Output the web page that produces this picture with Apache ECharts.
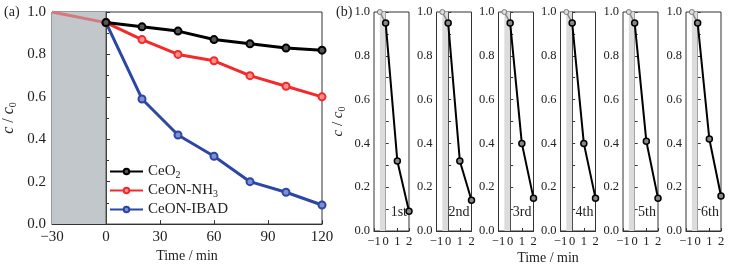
<!DOCTYPE html>
<html><head><meta charset="utf-8">
<script src="https://cdn.jsdelivr.net/npm/echarts@6/dist/echarts.min.js"></script>
<style>html,body{margin:0;padding:0;background:#fff}#c{width:730px;height:268px}</style>
</head><body><div id="c"></div>
<script>
// ---- data ----
const timesA = [0, 20, 40, 60, 80, 100, 120];
const darkTimes = [-30, 0];
const darkValues = [1.0, 0.95];
const ceo2 = [0.95, 0.93, 0.91, 0.87, 0.85, 0.83, 0.82];
const ceonNH3 = [0.95, 0.87, 0.80, 0.77, 0.70, 0.65, 0.60];
const ceonIBAD = [0.95, 0.59, 0.42, 0.32, 0.20, 0.15, 0.09];
const seriesNames = ['CeO2', 'CeON-NH3', 'CeON-IBAD'];
const xTicksA = [-30, 0, 30, 60, 90, 120];

const cycleLabels = ['1st', '2nd', '3rd', '4th', '5th', '6th'];
const cycleTimesDark = [-0.5, 0];
const cycleDark = [1.0, 0.95];
const cycleTimes = [0, 1, 2];
const cycle1 = [0.95, 0.32, 0.09];
const cycle2 = [0.95, 0.32, 0.14];
const cycle3 = [0.95, 0.40, 0.15];
const cycle4 = [0.95, 0.40, 0.15];
const cycle5 = [0.95, 0.41, 0.15];
const cycle6 = [0.95, 0.42, 0.16];
const cycles = [cycle1, cycle2, cycle3, cycle4, cycle5, cycle6];

// ---- layout ----
const FONT = 'Liberation Serif';
const AX = '#333';
const gridA = {left: 49, top: 12, width: 273, height: 220};
const bLefts = [374, 436.5, 498.5, 560.5, 623, 686];
const bW = 35, bTop = 12, bH = 219;
const minus = s => String(s).replace('-', '\u2212');

const grids = [Object.assign({show: true, borderColor: AX, borderWidth: 1, backgroundColor: 'transparent'}, gridA)];
bLefts.forEach(l => grids.push({show: true, borderColor: AX, borderWidth: 1, left: l, top: bTop, width: bW, height: bH}));

const xAxes = [{
  gridIndex: 0, type: 'value', min: -30, max: 120, interval: 30,
  axisLine: {lineStyle: {color: AX}}, splitLine: {show: false},
  axisTick: {inside: true, length: 4, lineStyle: {color: AX}},
  axisLabel: {fontFamily: FONT, fontSize: 15, color: '#222', margin: 5, formatter: v => minus(v)},
  name: 'Time / min', nameLocation: 'middle', nameGap: 23,
  nameTextStyle: {fontFamily: FONT, fontSize: 14, color: '#222'}
}];
const yAxes = [{
  gridIndex: 0, type: 'value', min: 0, max: 1, interval: 0.2,
  axisLine: {lineStyle: {color: AX}}, splitLine: {show: false},
  axisTick: {inside: true, length: 4, lineStyle: {color: AX}},
  minorTick: {show: true, splitNumber: 2, length: 3, lineStyle: {color: AX}},
  axisLabel: {fontFamily: FONT, fontSize: 15, color: '#222', margin: 6, formatter: v => v.toFixed(1)},
  name: '{i|c} / {i|c}{s|0}', nameLocation: 'middle', nameGap: 34, nameRotate: 90,
  nameTextStyle: {fontFamily: FONT, fontSize: 16, color: '#222',
    rich: {i: {fontFamily: FONT, fontSize: 16, fontStyle: 'italic', color: '#222'},
           s: {fontFamily: FONT, fontSize: 10, color: '#222', verticalAlign: 'bottom', padding: [8, 0, 0, 0]}}}
}];
bLefts.forEach((l, k) => {
  xAxes.push({
    gridIndex: k + 1, type: 'value', min: -1, max: 2, interval: 1,
    axisLine: {lineStyle: {color: AX}}, splitLine: {show: false},
    axisTick: {inside: true, length: 3, lineStyle: {color: AX}},
    axisLabel: {fontFamily: FONT, fontSize: 12.5, color: '#222', margin: 4, hideOverlap: false, showMinLabel: true, showMaxLabel: true, formatter: v => minus(v)}
  });
  yAxes.push({
    gridIndex: k + 1, type: 'value', min: 0, max: 1, interval: 0.2,
    axisLine: {lineStyle: {color: AX}}, splitLine: {show: false},
    axisTick: {inside: true, length: 3, lineStyle: {color: AX}},
    minorTick: {show: true, splitNumber: 2, length: 3, lineStyle: {color: AX}},
    axisLabel: {fontFamily: FONT, fontSize: 12.5, color: '#222', margin: 4, formatter: v => v.toFixed(1)},
    name: k === 0 ? '{i|c} / {i|c}{s|0}' : '', nameLocation: 'middle', nameGap: 27, nameRotate: 90,
    nameTextStyle: {fontFamily: FONT, fontSize: 15, color: '#222',
      rich: {i: {fontFamily: FONT, fontSize: 15, fontStyle: 'italic', color: '#222'},
             s: {fontFamily: FONT, fontSize: 10, color: '#222', verticalAlign: 'bottom', padding: [8, 0, 0, 0]}}}
  });
});

const colors = ['#000000', '#f42a2a', '#2c46a6'];
const fills = ['#555555', '#ff9090', '#7f90d0'];
const valsA = [ceo2, ceonNH3, ceonIBAD];
const series = [];
series.push({
  type: 'line', xAxisIndex: 0, yAxisIndex: 0, data: darkTimes.map((t, i) => [t, darkValues[i]]),
  symbol: 'none', lineStyle: {color: '#d27a7e', width: 3}, silent: true, z: 3,
  markArea: {silent: true, itemStyle: {color: '#c1c7ca'}, data: [[{xAxis: -30}, {xAxis: 0}]]}
});
series.push({
  type: 'line', xAxisIndex: 0, yAxisIndex: 0, data: [[0, 0], [0, 1]], symbol: 'none',
  lineStyle: {color: '#555', width: 1}, silent: true, z: 2
});
valsA.forEach((v, s) => {
  series.push({
    name: seriesNames[s], type: 'line', xAxisIndex: 0, yAxisIndex: 0,
    data: timesA.map((t, i) => [t, v[i]]),
    symbol: 'circle', symbolSize: 7, showAllSymbol: true,
    lineStyle: {color: colors[s], width: 3},
    itemStyle: {color: fills[s], borderColor: colors[s], borderWidth: 2},
    z: 5 - s
  });
});
cycles.forEach((c, k) => {
  series.push({
    type: 'line', xAxisIndex: k + 1, yAxisIndex: k + 1,
    data: cycleTimesDark.map((t, i) => [t, cycleDark[i]]),
    symbol: 'circle', symbolSize: 5, lineStyle: {color: '#888', width: 1.5},
    itemStyle: {color: '#ddd', borderColor: '#777', borderWidth: 1}, silent: true,
    markArea: {silent: true, itemStyle: {color: '#dcdcdc'}, data: [[{xAxis: -0.5}, {xAxis: 0}]]}
  });
  series.push({
    type: 'line', xAxisIndex: k + 1, yAxisIndex: k + 1,
    data: cycleTimes.map((t, i) => [t, c[i]]),
    symbol: 'circle', symbolSize: 6, lineStyle: {color: '#000', width: 2},
    itemStyle: {color: '#888', borderColor: '#000', borderWidth: 1.5}, silent: true, z: 4
  });
});

const graphics = [
  {type: 'text', left: 4, top: 5, style: {text: '(a)', font: '14px "' + FONT + '"', fill: '#222'}},
  {type: 'text', left: 336, top: 5, style: {text: '(b)', font: '14px "' + FONT + '"', fill: '#222'}},
  {type: 'text', x: 76, y: 113, style: {text: 'Dark', font: '15px "' + FONT + '"', fill: '#222', textAlign: 'center', textVerticalAlign: 'middle'}},
  {type: 'text', x: 548, y: 258, style: {text: 'Time / min', font: '14px "' + FONT + '"', fill: '#222', textAlign: 'center', textVerticalAlign: 'middle'}}
];
bLefts.forEach((l, k) => {
  graphics.push({type: 'text', x: l + bW - 2, y: 212, z: 10,
    style: {text: cycleLabels[k], font: '14px "' + FONT + '"', fill: '#222', textAlign: 'right', textVerticalAlign: 'middle'}});
});

const chart = echarts.init(document.getElementById('c'), null, {renderer: 'canvas'});
chart.setOption({
  animation: false,
  grid: grids, xAxis: xAxes, yAxis: yAxes, series: series, graphic: graphics,
  legend: {
    data: seriesNames, orient: 'vertical', left: 109, top: 164, itemGap: 3, padding: 0,
    itemWidth: 33, itemHeight: 7,
    textStyle: {fontFamily: FONT, fontSize: 15, color: '#222',
      rich: {sub: {fontFamily: FONT, fontSize: 10, color: '#222', verticalAlign: 'bottom', padding: [7, 0, 0, 0]},
             n: {fontFamily: FONT, fontSize: 15, color: '#222'}}},
    formatter: n => n === 'CeO2' ? '{n|CeO}{sub|2}' : n === 'CeON-NH3' ? '{n|CeON-NH}{sub|3}' : '{n|' + n + '}'
  }
});
</script></body></html>
